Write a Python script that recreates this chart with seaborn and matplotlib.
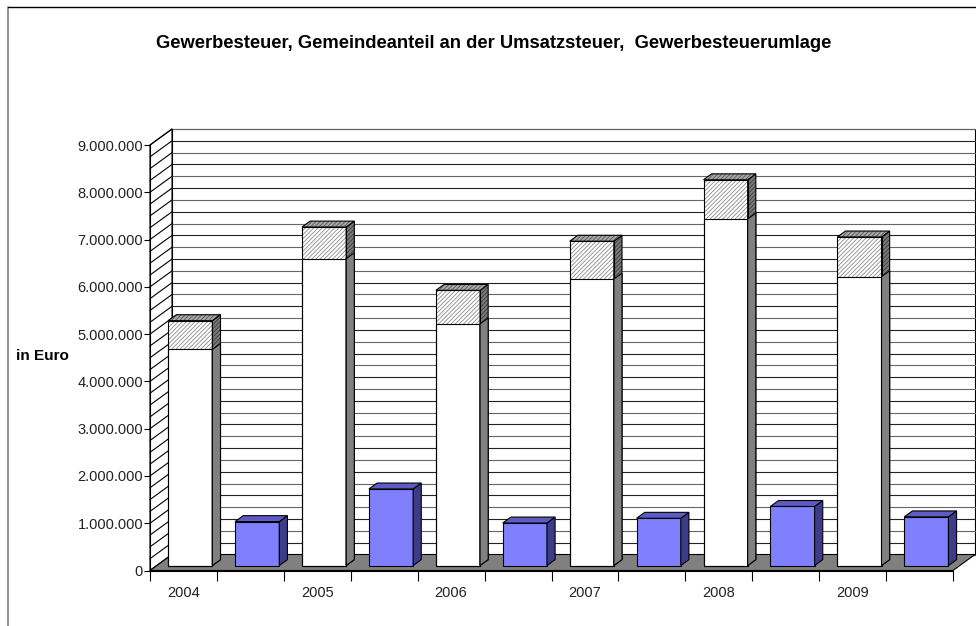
import numpy as np
import pandas as pd
import seaborn as sns
import matplotlib.pyplot as plt
from matplotlib.patches import Polygon
from matplotlib.lines import Line2D
from matplotlib.ticker import FuncFormatter

sns.set_theme(style='ticks')
plt.rcParams['font.family'] = ['Liberation Sans', 'DejaVu Sans']
plt.rcParams['hatch.linewidth'] = 0.6

# data (in Euro)
years = ['2004', '2005', '2006', '2007', '2008', '2009']
gewerbesteuer = [4570000, 6490000, 5110000, 6060000, 7330000, 6110000]
umlage = [610000, 670000, 710000, 800000, 830000, 840000]
umsatzsteuer = [930000, 1620000, 900000, 1000000, 1250000, 1030000]

# two slots per year: Gewerbesteuer column and Umsatzsteuer column
slots = []
for y in years:
    slots += [y + ' GewSt', y + ' USt']

df_total = pd.DataFrame({'slot': [y + ' GewSt' for y in years],
                         'value': np.array(gewerbesteuer) + np.array(umlage)})
df_gew = pd.DataFrame({'slot': [y + ' GewSt' for y in years], 'value': gewerbesteuer})
df_ust = pd.DataFrame({'slot': [y + ' USt' for y in years], 'value': umsatzsteuer})

W, H = 976, 626
fig = plt.figure(figsize=(W / 100, H / 100), dpi=100)
L, R, T, B = 150, 953, 145, 570.5
ax = fig.add_axes([L / W, (H - B) / H, (R - L) / W, (B - T) / H])

ymax = 9000000
xmin, xmax = -0.5, len(slots) - 0.5
DX, DY = 22, 16      # depth of the box, pixels
D1, D2 = 0.31, 0.68  # front / back of the columns as fraction of depth


def depth(d):
    return d * DX * (xmax - xmin) / (R - L), d * DY * ymax / (B - T)


def draw(df, color):
    n = len(ax.patches)
    sns.barplot(data=df, x='slot', y='value', order=slots, width=0.66,
                color=color, saturation=1, errorbar=None,
                edgecolor='black', linewidth=0.8, ax=ax, zorder=3)
    return ax.patches[n:]


hatched = draw(df_total, 'white')
white = draw(df_gew, 'white')
blue = draw(df_ust, '#8080ff')

ax.set_xlim(xmin, xmax)
ax.set_ylim(0, ymax)

ox, oy = depth(1)
levels = np.arange(0, ymax + 1, 250000)

# back wall
ax.add_patch(Polygon([(xmin + ox, oy), (xmax + ox, oy), (xmax + ox, ymax + oy),
                      (xmin + ox, ymax + oy)], closed=True, fc='white', ec='black',
                     lw=0.8, clip_on=False, zorder=0.5))
for i, v in enumerate(levels):
    ax.plot([xmin + ox, xmax + ox], [v + oy, v + oy], color='#222222' if i % 2 else '#666666',
            lw=0.8, clip_on=False, zorder=0.6)

# left wall
ax.add_patch(Polygon([(xmin, 0), (xmin + ox, oy), (xmin + ox, ymax + oy), (xmin, ymax)],
                     closed=True, fc='white', ec='black', lw=0.8, clip_on=False, zorder=0.7))
for v in levels:
    ax.plot([xmin, xmin + ox], [v, v + oy], color='black', lw=0.8, clip_on=False, zorder=0.8)

# floor
ax.add_patch(Polygon([(xmin, 0), (xmax, 0), (xmax + ox, oy), (xmin + ox, oy)], closed=True,
                     fc='#808080', ec='black', lw=0.8, clip_on=False, zorder=1))


def face(pts, fc, hatch=None, hc=None):
    if hatch:
        ax.add_patch(Polygon(pts, closed=True, fc=fc, ec=hc, hatch=hatch, lw=0,
                             clip_on=False, zorder=3))
        ax.add_patch(Polygon(pts, closed=True, fill=False, ec='black', lw=0.8,
                             clip_on=False, zorder=3))
    else:
        ax.add_patch(Polygon(pts, closed=True, fc=fc, ec='black', lw=0.8,
                             clip_on=False, zorder=3))


def box(p, side, top=None, hatch=None, hc=None, hc2=None):
    x0, w, h = p.get_x(), p.get_width(), p.get_height()
    ax1, ay1 = depth(D1)
    ax2, ay2 = depth(D2)
    p.set_x(x0 + ax1)
    p.set_y(ay1)
    p.set_clip_on(False)
    x0 += ax1
    xr = x0 + w
    face([(xr, ay1), (xr + ax2 - ax1, ay2), (xr + ax2 - ax1, h + ay2), (xr, h + ay1)],
         side, hatch, hc)
    if top:
        face([(x0, h + ay1), (x0 + ax2 - ax1, h + ay2), (xr + ax2 - ax1, h + ay2),
              (xr, h + ay1)], top, hatch, hc2)
    if hatch:
        p.set_hatch(hatch)
        p.set_edgecolor('#8c8c8c')
        p.set_linewidth(0)
        face([(x0, ay1), (xr, ay1), (xr, h + ay1), (x0, h + ay1)], 'none')


for p in hatched:
    box(p, '#7a7a7a', '#a8a8a8', hatch='////////', hc='#3a3a3a', hc2='#555555')
for p in white:
    box(p, '#808080')
for p in blue:
    box(p, '#3c3c8a', '#5c5cc4')

# axes, ticks
for s in ['top', 'right']:
    ax.spines[s].set_visible(False)
for s in ['left', 'bottom']:
    ax.spines[s].set_color('black')
    ax.spines[s].set_linewidth(0.8)
    ax.spines[s].set_zorder(2)

ax.set_yticks(np.arange(0, ymax + 1, 1000000))
ax.yaxis.set_major_formatter(FuncFormatter(lambda v, pos: f'{int(v):,}'.replace(',', '.')))
ax.set_xticks(np.arange(xmin, xmax + 0.01, 1))
ax.set_xticklabels([])
ax.set_xticks(np.arange(0, len(slots), 2), minor=True)
ax.set_xticklabels(years, minor=True)
ax.tick_params(axis='y', length=4, width=0.8, color='black', pad=1, labelsize=10.5,
               labelcolor='#222222')
ax.tick_params(axis='x', which='major', length=7, width=0.8, color='black')
ax.tick_params(axis='x', which='minor', length=0, pad=11, labelsize=10.5, labelcolor='#222222')
ax.set_xlabel('')
ax.set_ylabel('')

fig.text(16 / W, 1 - 356 / H, 'in Euro', fontsize=11, fontweight='bold', va='center',
         color='black')
fig.text(494 / W, 1 - 44 / H,
         'Gewerbesteuer, Gemeindeanteil an der Umsatzsteuer,  Gewerbesteuerumlage',
         fontsize=13.2, fontweight='bold', ha='center', va='center', color='black')

# outer frame
fig.add_artist(Line2D([8 / W, 8 / W], [0, 1 - 7 / H], color='#808080', lw=1.2))
fig.add_artist(Line2D([8 / W, 1], [1 - 7 / H, 1 - 7 / H], color='black', lw=1))

fig.savefig('out.png', dpi=100)
